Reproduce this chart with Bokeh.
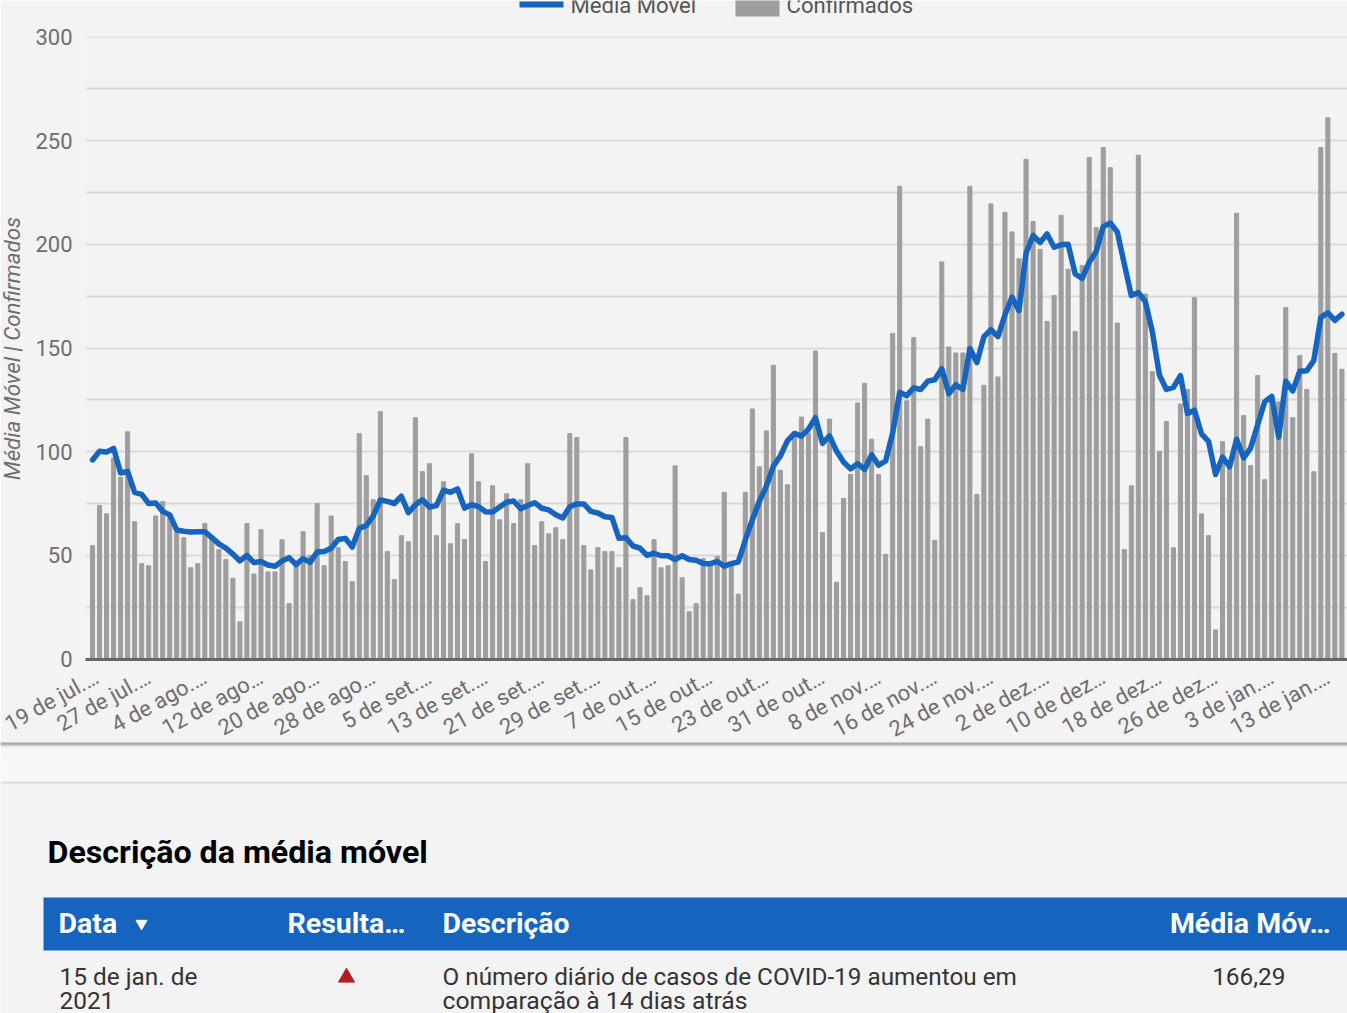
from bokeh.plotting import figure
from bokeh.models import ColumnDataSource, FixedTicker
from bokeh.core.properties import value
from bokeh.embed import file_html
from bokeh.resources import INLINE
import math

confirmados = [
 54.7,74,70,97,87.5,109.6,66.2,46,45,69,75.9,70,61,58.5,44,46,65.3,58,52.7,48,
 39,18,65.3,41,62.4,42,42,57.5,26.7,45,61.4,49.8,75,45,69,53.7,47,37.3,108.7,88.4,
 76.8,119.3,51.8,38.3,59.5,56.6,116.4,90.4,94.2,59.5,85.5,55.6,65.3,57.6,99,85.5,47,83.6,67.2,79.7,
 65.3,76.8,94.2,54.7,66.2,60.4,63.3,57.6,108.7,106.8,54.7,43,53.7,51.8,51.8,44,106.8,28.6,34.4,30.5,
 57.6,44,45,93.2,39.2,22.8,26.7,48.4,47,49.5,80.4,46,31.3,80.4,120.6,92.7,110,141.7,91,84,
 107,116.7,109,148.5,61,115.7,37,77.4,89,123.5,133,106,89,50.5,157,228,124.5,155,102.4,115.7,
 57.3,191.5,150.5,147.6,147.6,228,79.4,132,219.5,136,215.5,206,193,241,211,197.6,162.8,175.3,214,188,
 158,189.8,241.9,208,246.7,237,162,52.8,83.6,243,176,138.6,100,114.5,53.6,123,130,174.3,70,59.5,
 14,104.8,94,215,117.4,93.3,136.7,86.5,126.7,124,169.5,116.4,146.4,130,90.3,246.7,261,147.4,139.7]

media_movel = [
 96,100.2,99.8,101.6,89.7,90.5,80.4,79.4,75,75.2,71.2,69.5,62.2,61.6,61.3,61.4,61.4,58.5,55.5,53.5,
 50.6,47.3,50,46.5,47,45.3,44.7,47.3,48.9,45.5,48.4,46.6,51.6,51.8,53.4,57.6,58.2,54,63,64.3,
 69,76.7,76,75,78.5,70.6,74.4,76.8,73.3,74,81.4,80.4,82,72.8,74.4,73.5,71,70.9,73.3,75.6,
 76.2,72.5,74,75.4,72.7,71.9,69.6,68,73.5,74.8,74.8,71.2,70.4,68.6,68.3,58.2,58.5,54.5,53.5,50,
 51,49.8,49.8,47.9,49.8,48,47.6,46.1,46,47,44.8,46,46.8,57.3,67,76,83.3,93,97.9,105.2,
 108.8,107.5,110.9,116.4,104,107.6,100.3,95,91.7,94.2,91.4,98.5,93.5,95.5,109,128.7,127,130.8,130,134,
 134.7,140,128,132.3,130,149.8,143,155.5,158.8,155.5,166,174.5,168,195.7,204.3,200.9,205,198.6,199.8,200,
 185.7,183.6,191.4,196.6,208.6,210.3,206,190.5,175.3,176.7,172.4,157.8,137,130,131,136.7,118.4,120,108.6,105,
 89,97.4,92.8,106,97,101.7,113,124,126.7,107,134,129.3,138.8,139,144,164.7,167,163.3,166.29]

tick_labels = ["19 de jul.…","27 de jul.…","4 de ago.…","12 de ago…","20 de ago…","28 de ago…",
 "5 de set.…","13 de set.…","21 de set.…","29 de set.…","7 de out.…","15 de out…","23 de out…","31 de out…",
 "8 de nov.…","16 de nov.…","24 de nov.…","2 de dez.…","10 de dez…","18 de dez…","26 de dez…","3 de jan.…","13 de jan.…"]
tick_step = 8
y_major = [0,50,100,150,200,250,300]
y_grid = [25,50,75,100,125,150,175,200,225,250,275,300]

FONT = "Roboto"
BG = "#f3f3f3"
BLUE = "#1565c0"
GREY = "#9e9e9e"
TXT = "#6e6e6e"

days = list(range(len(confirmados)))
src = ColumnDataSource(dict(x=days, conf=confirmados, mm=media_movel))

p = figure(width=1347, height=760, output_backend="svg", toolbar_location=None,
           x_range=(-1.0, 178.8), y_range=(-0.24, 300.24), margin=0,
           min_border_left=85, min_border_right=0, min_border_top=36, min_border_bottom=101,
           background_fill_color=BG, border_fill_color=BG, outline_line_color=None,
           styles={"position": "absolute", "left": "0px", "top": "0px"})
p.xgrid.visible = False
p.ygrid.ticker = FixedTicker(ticks=y_grid)
p.ygrid.grid_line_color = "#d9d9d9"
p.ygrid.grid_line_width = 2.2

bars = p.vbar(x="x", top="conf", width=0.58, bottom=0, source=src, color=GREY)
line = p.line(x="x", y="mm", source=src, line_color=BLUE, line_width=5.5, line_join="round", line_cap="round")

ya = p.yaxis[0]
ya.ticker = FixedTicker(ticks=y_major)
ya.axis_line_color = None
ya.major_tick_line_color = None
ya.minor_tick_line_color = None
ya.major_label_text_font = FONT
ya.major_label_text_font_size = "22px"
ya.major_label_text_color = TXT
ya.major_label_standoff = 7

xa = p.xaxis[0]
tick_pos = [i * tick_step for i in range(len(tick_labels))]
xa.ticker = FixedTicker(ticks=tick_pos)
xa.major_label_overrides = dict(zip(tick_pos, tick_labels))
xa.major_label_orientation = math.radians(29)
xa.major_label_text_font = FONT
xa.major_label_text_font_size = "22px"
xa.major_label_text_color = TXT
xa.major_label_standoff = 10
xa.axis_line_color = "#666666"
xa.axis_line_width = 3
xa.major_tick_line_color = None
xa.minor_tick_line_color = None

# transparent layer in page pixels: legend and y axis title, which lie outside the plot frame
o = figure(width=1347, height=500, output_backend="svg", toolbar_location=None,
           x_range=(0, 1347), y_range=(500, 0), margin=0,
           min_border_left=0, min_border_right=0, min_border_top=0, min_border_bottom=0,
           background_fill_color=None, border_fill_color=None, outline_line_color=None,
           styles={"position": "absolute", "left": "0px", "top": "0px"})
o.axis.visible = False
o.grid.visible = False
o.line(x=[519, 563], y=[4, 4], line_color=BLUE, line_width=6)
o.quad(left=[735], right=[779], top=[-6], bottom=[16], fill_color=GREY, line_color=None)
for xt, s in [(570, "Média Móvel"), (786, "Confirmados")]:
    o.text(x=[xt], y=[4], text=[s], text_font=value(FONT), text_font_size="22.1px", text_color="#555555",
           text_align="left", text_baseline="alphabetic")
o.text(x=[11], y=[348], text=["Média Móvel | Confirmados"], angle=math.pi / 2, text_font=value(FONT),
       text_font_style="italic", text_font_size="22.3px", text_color=TXT, text_align="center",
       text_baseline="alphabetic")

# lower part of the page: table card, drawn in page pixels
t = figure(width=1347, height=272, output_backend="svg", toolbar_location=None,
           x_range=(0, 1347), y_range=(1013, 741), margin=0,
           min_border_left=0, min_border_right=0, min_border_top=0, min_border_bottom=0,
           background_fill_color="#f8f8f8", border_fill_color="#f8f8f8", outline_line_color=None,
           styles={"position": "absolute", "left": "0px", "top": "741px"})
t.axis.visible = False
t.grid.visible = False

shadow_y = [741.5, 742.5, 743.5, 744.5, 745.5, 746.5]
shadow_c = ["#c8c8c8", "#a8a8a8", "#b4b4b4", "#d0d0d0", "#e6e6e6", "#f1f1f1"]
t.hspan(y=shadow_y, line_color=shadow_c, line_width=1)
t.quad(left=[0], right=[1347], top=[782], bottom=[1013], fill_color=BG, line_color=None)
t.hspan(y=[782], line_color="#dcdcdc", line_width=2)
t.quad(left=[43], right=[1347], top=[897], bottom=[950], fill_color=BLUE, line_color=None)

def txt(x, y, s, size, color, style="normal", align="left"):
    t.text(x=[x], y=[y], text=[s], text_font=value(FONT), text_font_size=size, text_color=color,
           text_font_style=style, text_align=align, text_baseline="alphabetic")

txt(47, 851, "Descrição da média móvel", "32.2px", "#000000", "bold")
txt(58, 923, "Data", "28.5px", "#ffffff", "bold")
txt(287, 923, "Resulta…", "28.5px", "#ffffff", "bold")
txt(442, 923, "Descrição", "28.4px", "#ffffff", "bold")
txt(1330, 923, "Média Móv…", "28.5px", "#ffffff", "bold", "right")
t.scatter(x=[141], y=[923], marker="inverted_triangle", size=11, color="#ffffff")
txt(59, 976, "15 de jan. de", "24.4px", "#333333")
txt(59, 1000, "2021", "24.4px", "#333333")
t.scatter(x=[346], y=[977], marker="triangle", size=16, color="#b71c1c")
txt(442, 976, "O número diário de casos de COVID-19 aumentou em", "24.3px", "#333333")
txt(442, 1000, "comparação à 14 dias atrás", "24.7px", "#333333")
txt(1285, 976, "166,29", "24.4px", "#333333", "normal", "right")

open("out.html", "w").write(file_html([p, o, t], INLINE))
